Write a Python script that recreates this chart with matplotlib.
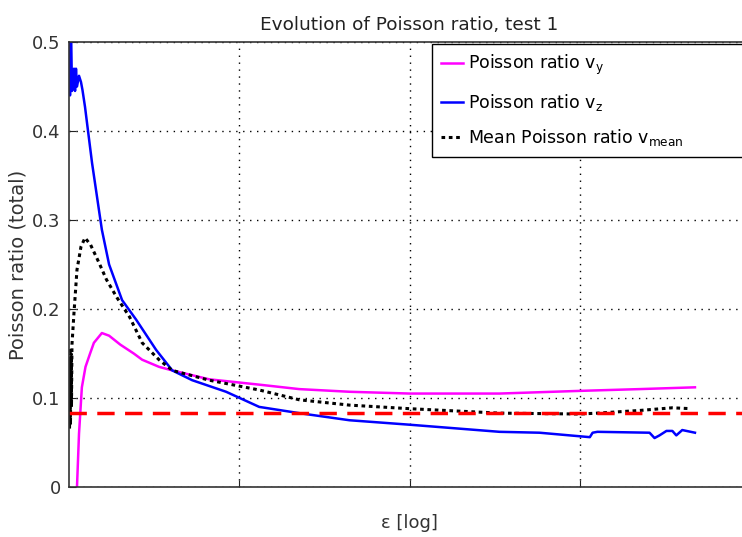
import numpy as np
import matplotlib
matplotlib.use("Agg")
import matplotlib.pyplot as plt

# strain values (log axis) and Poisson ratios
eps_y = [1.114e-5, 1.145e-5, 1.19e-5, 1.25e-5, 1.33e-5, 1.40e-5, 1.56e-5, 1.72e-5,
         2.0e-5, 2.4e-5, 2.69e-5, 3.38e-5, 4.04e-5, 6.66e-5, 1.31e-4, 2.25e-4,
         4.44e-4, 1e-3, 3.38e-3, 1e-2, 2.25e-2, 4.75e-2]
nu_y = [0.0, 0.06, 0.112, 0.135, 0.15, 0.162, 0.173, 0.170,
        0.160, 0.150, 0.143, 0.135, 0.131, 0.121, 0.115, 0.110,
        0.107, 0.105, 0.105, 0.108, 0.110, 0.112]

eps_z = [1e-5, 1.0136e-5, 1.027e-5, 1.041e-5, 1.07e-5, 1.085e-5, 1.099e-5, 1.114e-5,
         1.145e-5, 1.176e-5, 1.20e-5, 1.242e-5, 1.276e-5, 1.366e-5, 1.50e-5,
         1.56e-5, 1.72e-5, 2.05e-5, 2.48e-5, 3.25e-5, 4.04e-5, 5.29e-5, 8.37e-5,
         1.31e-4, 2.25e-4, 4.44e-4, 1e-3, 3.38e-3, 5.8e-3, 1e-2, 1.146e-2,
         1.19e-2, 1.27e-2, 2.57e-2, 2.75e-2, 2.94e-2, 3.23e-2, 3.5e-2, 3.69e-2,
         4.0e-2, 4.75e-2]
nu_z = [0.52, 0.44, 0.52, 0.445, 0.47, 0.445, 0.47, 0.45,
        0.462, 0.455, 0.446, 0.427, 0.409, 0.364, 0.311,
        0.289, 0.25, 0.21, 0.188, 0.154, 0.131, 0.12, 0.107,
        0.09, 0.083, 0.075, 0.070, 0.062, 0.061, 0.057, 0.056,
        0.061, 0.062, 0.061, 0.055, 0.058, 0.063, 0.063, 0.058,
        0.064, 0.061]

eps_m = [1e-5, 1.007e-5, 1.014e-5, 1.02e-5, 1.027e-5, 1.034e-5, 1.041e-5,
         1.07e-5, 1.114e-5, 1.176e-5, 1.242e-5, 1.34e-5, 1.50e-5, 1.66e-5,
         1.91e-5, 2.27e-5, 2.69e-5, 3.38e-5, 4.04e-5, 6.66e-5, 1.31e-4,
         2.25e-4, 4.44e-4, 1e-3, 3.38e-3, 1e-2, 1.27e-2, 2.25e-2, 3.5e-2, 4.5e-2]
nu_m = [0.155, 0.065, 0.14, 0.07, 0.15, 0.09, 0.16,
        0.196, 0.244, 0.27, 0.28, 0.272, 0.252, 0.233,
        0.213, 0.191, 0.162, 0.143, 0.131, 0.12, 0.109,
        0.098, 0.092, 0.088, 0.083, 0.082, 0.083, 0.086, 0.089, 0.088]

nu_ref = 0.083

fig = plt.figure(figsize=(7.42, 5.37), dpi=100)
ax = fig.add_axes([69 / 742, 50 / 537, 681 / 742, 445 / 537])

ax.plot(eps_y, nu_y, color="#ff00ff", lw=1.8, label="Poisson ratio v$_\\mathregular{y}$")
ax.plot(eps_z, nu_z, color="#0000ff", lw=1.8, label="Poisson ratio v$_\\mathregular{z}$")
ax.plot(eps_m, nu_m, color="black", lw=2.2, ls=(0, (1.2, 1.2)),
        label="Mean Poisson ratio v$_\\mathregular{mean}$" + " " * 10)
ax.axhline(nu_ref, color="red", lw=2.5, ls=(0, (5, 3)))

ax.set_xscale("log")
ax.set_xlim(1e-5, 1e-1)
ax.set_ylim(0, 0.5)
ax.set_xticks([1e-4, 1e-3, 1e-2])
ax.set_xticklabels([])
ax.xaxis.set_minor_locator(matplotlib.ticker.NullLocator())
ax.set_yticks([0, 0.1, 0.2, 0.3, 0.4, 0.5])
ax.set_yticklabels(["0", "0.1", "0.2", "0.3", "0.4", "0.5"])
ax.tick_params(direction="in", length=5, pad=6, labelsize=13,
               colors="#222222", labelcolor="#333333")
ax.grid(True, color="black", ls=(0, (1, 4)), lw=1)
for s in ax.spines.values():
    s.set_color("#333333")
    s.set_linewidth(1.2)

ax.set_title("Evolution of Poisson ratio, test 1", fontsize=13.3, color="#222222", pad=9)
ax.set_ylabel("Poisson ratio (total)", fontsize=14, color="#333333")
ax.yaxis.set_label_coords(-0.061, 0.5)
ax.set_xlabel("ε [log]", fontsize=13, color="#333333")
ax.xaxis.set_label_coords(0.5, -0.06)

leg = ax.legend(loc="upper left", bbox_to_anchor=(432 / 742, 1 - 44 / 537),
                bbox_transform=fig.transFigure, fontsize=12.5, handlelength=1.3,
                handletextpad=0.25, borderaxespad=0, fancybox=False, framealpha=1,
                labelspacing=0.85, borderpad=0.5)
leg.get_frame().set_edgecolor("black")
leg.get_frame().set_linewidth(1.0)

fig.savefig("out.png", dpi=100)
